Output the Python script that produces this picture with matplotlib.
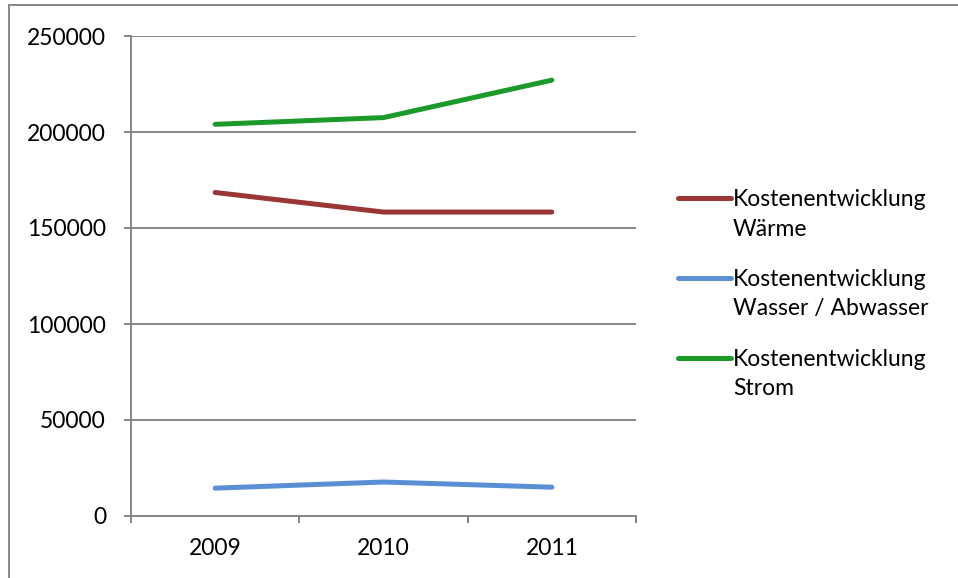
import matplotlib
matplotlib.use("Agg")
import matplotlib.pyplot as plt
from matplotlib.legend_handler import HandlerLine2D
from matplotlib.patches import Rectangle

plt.rcParams["font.family"] = ["Lato", "DejaVu Sans"]

years = ["2009", "2010", "2011"]
waerme = [168500, 158300, 158300]
wasser = [14500, 17700, 15000]
strom = [204000, 207500, 227000]

series = [
    ("Kostenentwicklung\nWärme", waerme, "#9a3735"),
    ("Kostenentwicklung\nWasser / Abwasser", wasser, "#5a8fd6"),
    ("Kostenentwicklung\nStrom", strom, "#1b9a2a"),
]

GRID = "#868686"
FS = 16.5


class TopLineHandler(HandlerLine2D):
    """Legend line aligned with the first text line instead of the centre."""

    def create_artists(self, legend, orig_handle, xdescent, ydescent,
                       width, height, fontsize, trans):
        artists = super().create_artists(legend, orig_handle, xdescent, ydescent,
                                         width, height, fontsize, trans)
        for a in artists:
            a.set_ydata([y + fontsize * 0.72 for y in a.get_ydata()])
        return artists


fig = plt.figure(figsize=(9.58, 5.78), dpi=100, facecolor="white")
ax = fig.add_axes([131 / 958, 1 - 516 / 578, 505 / 958, 480 / 578])

x = list(range(len(years)))
for label, values, color in series:
    ax.plot(x, values, color=color, lw=3.6, solid_capstyle="round",
            solid_joinstyle="round", label=label)

ax.set_xlim(-0.5, len(years) - 0.5)
ax.set_ylim(0, 250000)
ax.set_yticks(range(0, 250001, 50000))
ax.set_xticks(x)
ax.set_xticklabels(years)
ax.set_xticks([i - 0.5 for i in range(len(years) + 1)], minor=True)

ax.grid(axis="y", color=GRID, lw=1.4)
ax.set_axisbelow(True)
for side in ["top", "right"]:
    ax.spines[side].set_visible(False)
for side in ["left", "bottom"]:
    ax.spines[side].set_color(GRID)
    ax.spines[side].set_linewidth(1.4)

ax.tick_params(axis="y", which="major", length=5, width=1.4, color=GRID,
               labelsize=FS, pad=13)
ax.tick_params(axis="x", which="major", length=0, labelsize=FS, pad=16)
ax.tick_params(axis="x", which="minor", length=5, width=1.4, color=GRID)

handles, labels = ax.get_legend_handles_labels()
leg = ax.legend(handles, labels, loc="upper left", bbox_to_anchor=(1.065, 0.70),
                frameon=False, fontsize=FS, handlelength=2.3, handletextpad=0.1,
                labelspacing=1.28, borderaxespad=0,
                handler_map={h: TopLineHandler() for h in handles})
for t in leg.get_texts():
    t.set_linespacing(1.5)

# outer chart border
fig.patches.append(Rectangle((8.5 / 958, -0.05), 1.1, 1 - 5.5 / 578 + 0.05,
                             transform=fig.transFigure, fill=False,
                             edgecolor=GRID, lw=1.4))

fig.savefig("out.png", dpi=100, facecolor="white")
